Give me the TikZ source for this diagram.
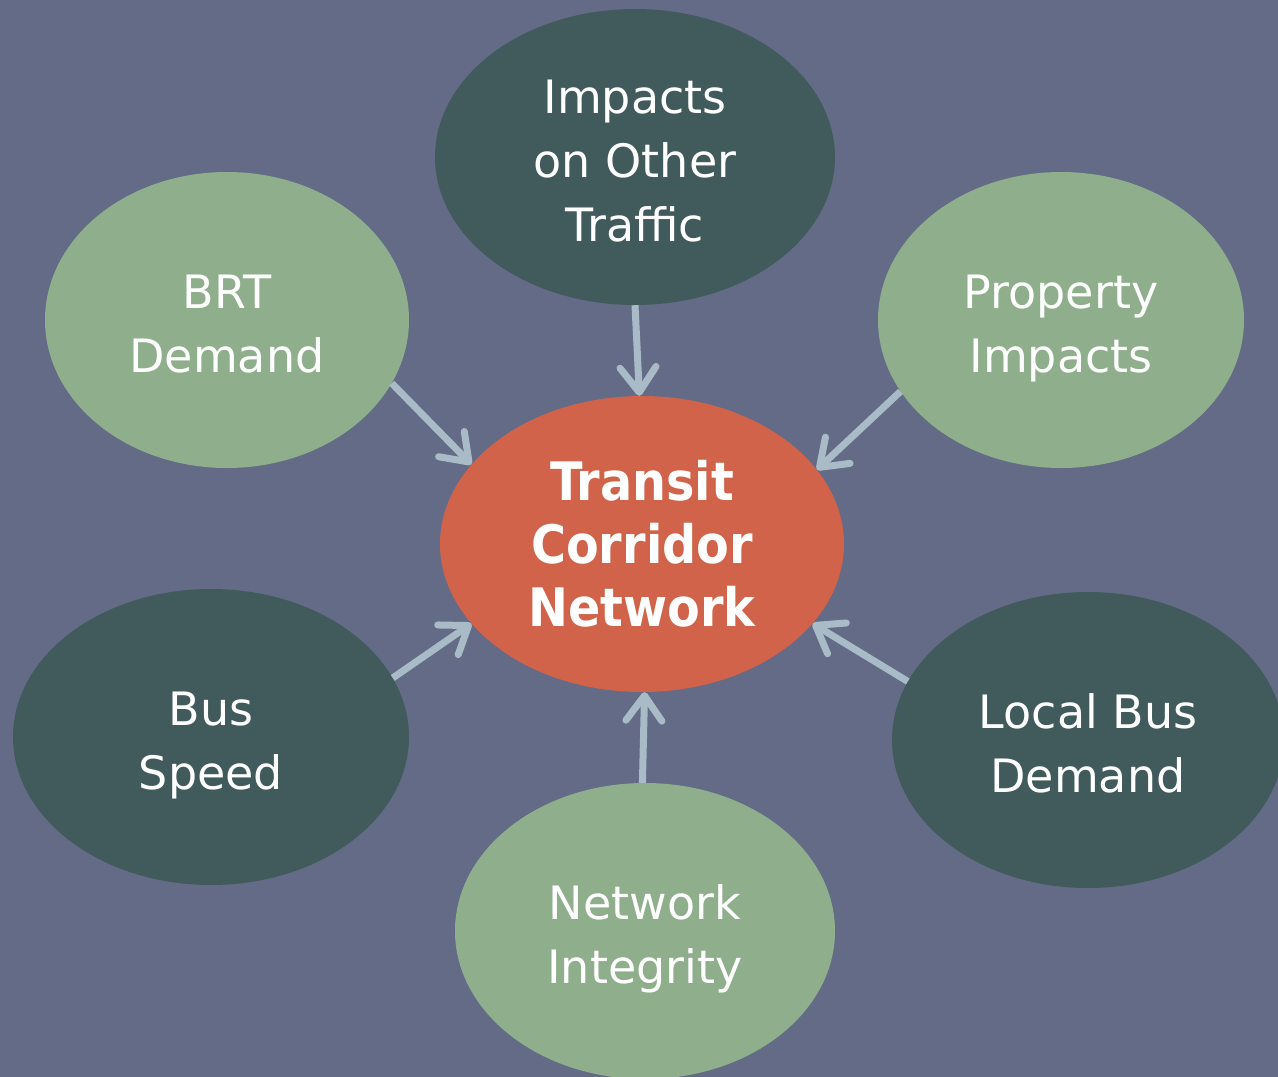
\documentclass[tikz,border=0pt]{standalone}
\usepackage{fontspec}
\setmainfont{DejaVu Sans}
\newfontfamily\hubfont{DejaVu Sans Condensed}
\usetikzlibrary{shapes.geometric,arrows.meta}
\definecolor{bgc}{HTML}{636B87}
\definecolor{darkc}{HTML}{415A5B}
\definecolor{lightc}{HTML}{8FAF8C}
\definecolor{orangec}{HTML}{D0634A}
\definecolor{arrowc}{HTML}{A9BBC6}
\newcommand{\bubtop}{\rule{0pt}{56pt}}
\newcommand{\bubbot}{\rule[-16pt]{0pt}{16pt}}
\tikzset{
  bubble/.style={ellipse, inner sep=0pt, text=white, align=center,
    font=\fontsize{46}{64}\selectfont},
  darkbub/.style={bubble, fill=darkc},
  lightbub/.style={bubble, fill=lightc},
  hub/.style={ellipse, inner sep=0pt, text=white, align=center, fill=orangec,
    font=\hubfont\fontsize{53}{63}\selectfont\bfseries},
  conn/.style={draw=arrowc, line width=7pt,
    -{Straight Barb[length=25pt, width=36pt, round]}}
}
\begin{document}
\begin{tikzpicture}[x=1pt,y=-1pt]
\fill[bgc] (0,0) rectangle (1278,1077);
\useasboundingbox (0,0) rectangle (1278,1077);

\node[hub, minimum width=404pt, minimum height=296pt] (center) at (642,544) {Transit\\Corridor\\Network};
\node[darkbub, minimum width=400pt, minimum height=296pt] (top) at (635,157) {\bubtop Impacts\\on Other\\Traffic\bubbot};
\node[lightbub, minimum width=364pt, minimum height=296pt] (brt) at (227,320) {\bubtop BRT\\Demand\bubbot};
\node[lightbub, minimum width=366pt, minimum height=296pt] (prop) at (1061,320) {\bubtop Property\\Impacts\bubbot};
\node[darkbub, minimum width=396pt, minimum height=296pt] (bus) at (211,737) {\bubtop Bus\\Speed\bubbot};
\node[darkbub, minimum width=392pt, minimum height=296pt] (local) at (1088,740) {\bubtop Local Bus\\Demand\bubbot};
\node[lightbub, minimum width=380pt, minimum height=296pt] (net) at (645,931) {\bubtop Network\\Integrity\bubbot};

\draw[conn] (top.-90) -- (center.91);
\draw[conn] (brt.-21) -- (center.155);
\draw[conn] (prop.204) -- (center.23);
\draw[conn] (bus.18) -- (center.205);
\draw[conn] (local.162) -- (center.-25);
\draw[conn] (net.91) -- (center.-89);
\end{tikzpicture}
\end{document}
